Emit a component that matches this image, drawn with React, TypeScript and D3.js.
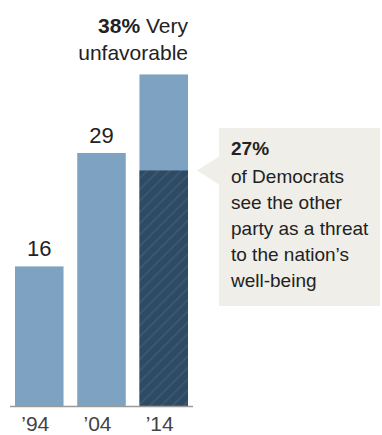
import React from "react";
import * as d3 from "d3";

const years = ["’94", "’04", "’14"];
const unfavorable = [16, 29, 38];
const threatValue = 27;
const topLabelBold = "38%";
const topLabelRest = " Very";
const topLabelLine2 = "unfavorable";
const noteBold = "27%";
const noteLines = [
  "of Democrats",
  "see the other",
  "party as a threat",
  "to the nation’s",
  "well-being",
];

const W = 382;
const H = 435;
const LIGHT = "#7ea3c2";
const DARK = "#2e4b63";
const FONT = "'Liberation Sans', Arial, sans-serif";

export default function App() {
  const x = d3.scaleBand<string>().domain(years).range([15, 188]).paddingInner(0.22).paddingOuter(0);
  const y = d3.scaleLinear().domain([0, 40]).range([406, 57]);
  const bw = x.bandwidth();
  const lastX = x(years[2]) as number;
  const yThreat = y(threatValue);

  const boxX = 219;
  const boxY = 128;
  const boxW = 161;
  const boxH = 178;
  const textX = 231;

  return (
    <svg
      width={W}
      height={H}
      style={{ position: "absolute", left: 0, top: 0, display: "block", background: "#fff" }}
      fontFamily={FONT}
    >
      <defs>
        <pattern id="hatch" width="8" height="8" patternUnits="userSpaceOnUse" patternTransform="rotate(45)">
          <rect width="8" height="8" fill={DARK} />
          <line x1="0" y1="0" x2="0" y2="8" stroke="#3b5b76" strokeWidth="3" />
        </pattern>
      </defs>

      {unfavorable.map((v, i) => (
        <rect key={years[i]} x={x(years[i])} y={y(v)} width={bw} height={y(0) - y(v)} fill={LIGHT} />
      ))}
      <rect x={lastX} y={yThreat} width={bw} height={y(0) - yThreat} fill="url(#hatch)" />

      {unfavorable.slice(0, 2).map((v, i) => (
        <text
          key={"l" + i}
          x={(x(years[i]) as number) + bw / 2}
          y={y(v) - 10}
          textAnchor="middle"
          fontSize={22}
          fill="#222"
        >
          {v}
        </text>
      ))}

      <text x={lastX + bw} y={33} textAnchor="end" fontSize={21} fill="#222">
        <tspan fontWeight="bold">{topLabelBold}</tspan>
        <tspan>{topLabelRest}</tspan>
      </text>
      <text x={lastX + bw} y={60} textAnchor="end" fontSize={21} fill="#222">
        {topLabelLine2}
      </text>

      <line x1={10} x2={193} y1={y(0) + 0.5} y2={y(0) + 0.5} stroke="#9a9a9a" strokeWidth={1.5} />

      {years.map((yr) => (
        <text
          key={yr}
          x={(x(yr) as number) + bw / 2 - 4}
          y={431}
          textAnchor="middle"
          fontSize={21}
          fill="#444"
        >
          {yr}
        </text>
      ))}

      <rect x={boxX} y={boxY} width={boxW} height={boxH} fill="#efeee8" />
      <path
        d={`M${boxX},${yThreat - 14} L${boxX - 22},${yThreat} L${boxX},${yThreat + 14} Z`}
        fill="#efeee8"
      />
      <text x={textX} y={155} fontSize={19} fontWeight="bold" fill="#222">
        {noteBold}
      </text>
      {noteLines.map((t, i) => (
        <text key={t} x={textX} y={183 + i * 26} fontSize={19} fill="#222">
          {t}
        </text>
      ))}
    </svg>
  );
}
